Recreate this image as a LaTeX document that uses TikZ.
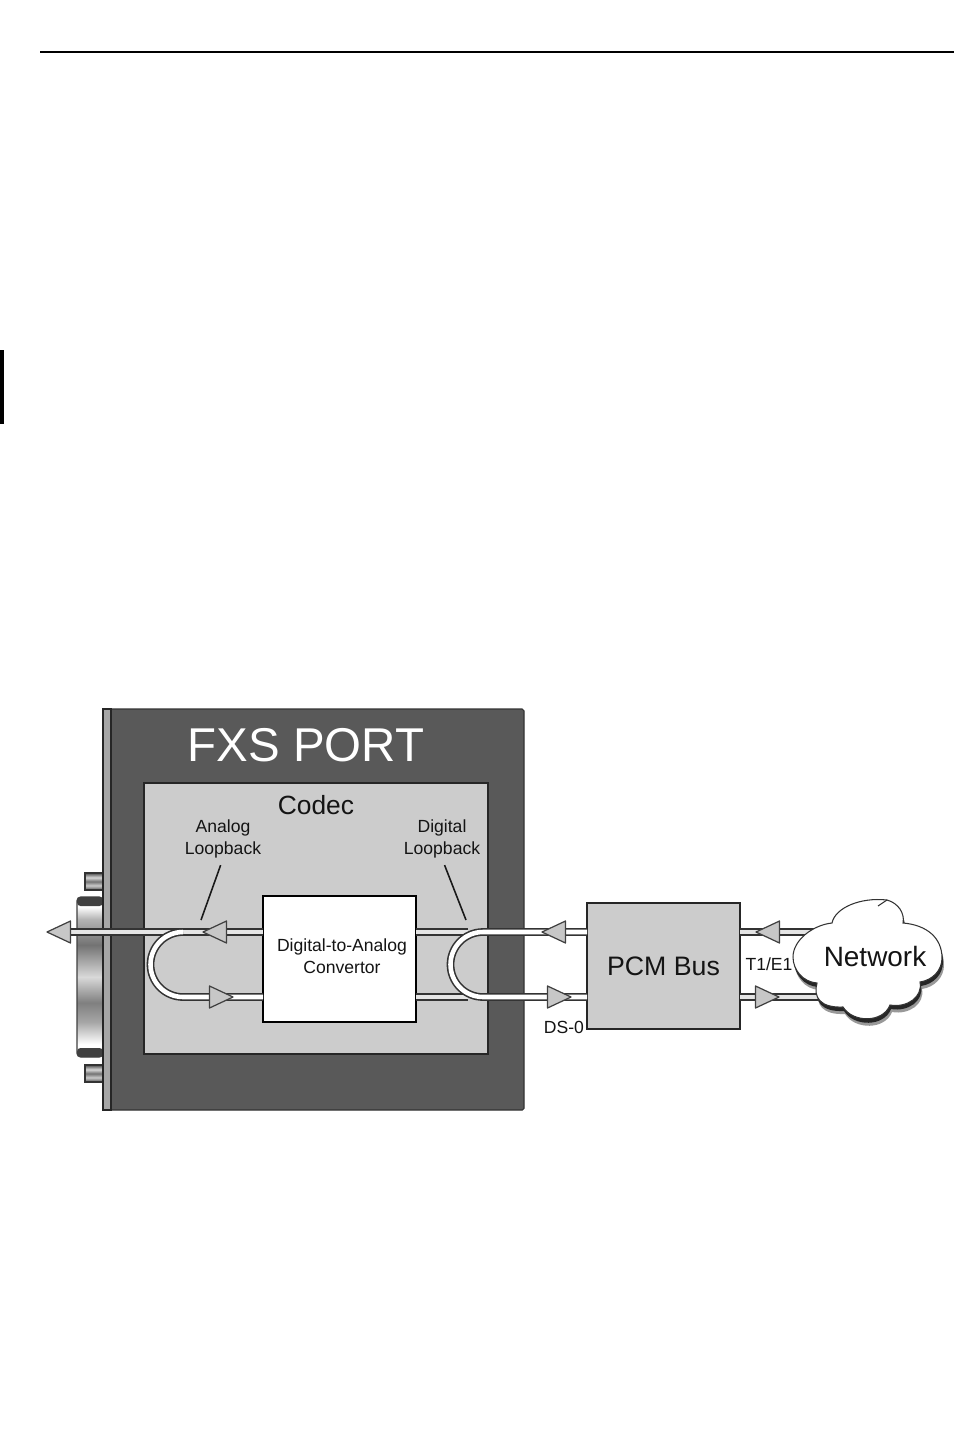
\documentclass[tikz,border=0pt]{standalone}
\usepackage{fontspec}
\setmainfont{Liberation Sans}
\usepackage{tikz}
\usetikzlibrary{positioning}
\pgfdeclareverticalshading{plugshade}{100bp}{color(0bp)=(white); color(25bp)=(white); color(29bp)=(white); color(36bp)=(black!35); color(42bp)=(black!50); color(50bp)=(black!15); color(60bp)=(black!55); color(68bp)=(black!30); color(72bp)=(white); color(75bp)=(white); color(100bp)=(white)}
\pgfdeclareverticalshading{screwshade}{100bp}{color(0bp)=(black!70); color(25bp)=(black!70); color(38bp)=(black!20); color(50bp)=(black!55); color(62bp)=(black!15); color(75bp)=(black!70); color(100bp)=(black!70)}
\tikzset{
	lbl/.style={draw=none,fill=none,inner sep=0pt,align=center,text=black!92},
	smalllbl/.style={lbl,font=\fontsize{10}{12.5}\selectfont},
	bluebox/.style={draw=black!85,fill=black!20,line width=.6pt,outer sep=0pt,inner sep=0pt},
	pipe/.style={draw=black!80,line width=.9pt,double=black!10,double distance=2.6pt},
	loopline/.style={pipe,double=white},
	pipehead/.style={draw=black!75,fill=black!22,line width=.7pt,line join=round},
	leader/.style={draw=black!90,line width=.9pt},
	cloudshape/.style={draw=black!80,fill=white,line width=.6pt}
}
\newcommand{\cloudpath}{(832,923) .. controls (835,908) and (860,897) .. (887,900) .. controls (898,903) and (905,913) .. (903,923) .. controls (927,925) and (942,938) .. (942,958) .. controls (942,970) and (933,980) .. (920,982) .. controls (923,997) and (907,1008) .. (890,1005) .. controls (883,1023) and (853,1023) .. (843,1007) .. controls (820,1008) and (813,997) .. (817,983) .. controls (803,982) and (793,970) .. (793,957) .. controls (793,940) and (813,925) .. (832,923) -- cycle}
\begin{document}
\begin{tikzpicture}[x=0.2mm,y=-0.2mm]
	\useasboundingbox (0,0) rectangle (954,1448);
	\fill[white] (0,0) rectangle (954,1448);
	
	% page furniture
	\draw[black,line width=1.1pt] (40,52)--(954,52);
	\fill[black] (0,350) rectangle (3.5,424);
	
	% serial connector on the left of the port
	\shade[shading=screwshade,draw=black!80,line width=.6pt] (85,873) rectangle (103,890);
	\shade[shading=screwshade,draw=black!80,line width=.6pt] (85,1065) rectangle (103,1082);
	\shade[shading=plugshade,draw=black!75,line width=.6pt,rounded corners=2pt] (77,897) rectangle (103,1057);
	\fill[black!75,rounded corners=2pt] (77,897) rectangle (103,906);
	\fill[black!75,rounded corners=2pt] (77,1048) rectangle (103,1057);
	
	% port, codec and boxes
	\draw[draw=black!80,fill=black!65,line width=.6pt,rounded corners=1pt] (103,709) rectangle (524,1110);
	\draw[draw=black!85,fill=black!35,line width=.6pt] (103,709) rectangle (111,1110);
	\node[bluebox,minimum width=68.8mm,minimum height=54.2mm] (codec) at (316,918.5) {};
	\node[lbl,font=\fontsize{27}{30}\selectfont,text=white] (fxs) at (306,745) {FXS PORT};
	\node[lbl,font=\fontsize{15}{18}\selectfont] (codeclbl) at (316,805) {Codec};
	\node[draw=black,fill=white,line width=1.2pt,outer sep=0pt,minimum width=30.6mm,minimum height=25.2mm] (dac) at (339.5,959) {};
	\node[smalllbl] (daclbl) at (342,956) {Digital-to-Analog\\Convertor};
	\node[bluebox,font=\fontsize{15.2}{18}\selectfont,text=black!92,minimum width=30.6mm,minimum height=25.2mm] (pcm) at (663.5,966) {PCM Bus};
	
	\coordinate (toprow) at (0,932);
	\coordinate (botrow) at (0,997);
	\coordinate (plugend) at (70,932);
	\coordinate (aloop) at (183,932);
	\coordinate (dloop) at (483,932);
	\coordinate (dstub) at (468,932);
	\coordinate (cloudmid) at (875,957);
	
	% lines between the boxes
	\draw[pipe] (pcm.east |- toprow)--(cloudmid |- toprow);
	\draw[pipe] (pcm.east |- botrow)--(cloudmid |- botrow);
	\draw[pipe] (dac.east |- toprow)--(dstub);
	\draw[pipe] (dac.east |- botrow)--(dstub |- botrow);
	\draw[loopline] (pcm.west |- toprow)--(dloop) arc[start angle=270,end angle=90,radius=32.5]--(pcm.west |- botrow);
	\draw[pipe] (dac.west |- toprow)--(plugend);
	\draw[loopline] (aloop) arc[start angle=270,end angle=90,radius=32.5]--(dac.west |- botrow);
	
	% the cloud, with its shadow first
	\begin{scope}[shift={(2,7)}]
		\fill[black!40] \cloudpath;
	\end{scope}
	\begin{scope}[shift={(1,4)}]
		\fill[black!85] \cloudpath;
	\end{scope}
	\draw[cloudshape] \cloudpath;
	\draw[black!80,line width=.6pt] (878,906)--(887,900);
	\node[lbl,font=\fontsize{15.9}{18}\selectfont] (network) at (cloudmid) {Network};
	
	% arrow heads: tip x, tip y, side of the base
	\foreach \tipx/\tipy/\dir in {47/932/1,203/932/1,233/997/-1,542/932/1,571/997/-1,756/932/1,779/997/-1}
		\draw[pipehead] (\tipx,\tipy)--++(\dir*23.5,-11)--++(0,22)--cycle;
	
	% labels and their leaders
	\node[smalllbl] (analoglbl) at (223,839) {Analog\\Loopback};
	\node[smalllbl] (digitallbl) at (442,839) {Digital\\Loopback};
	\coordinate (analogend) at (201,920);
	\coordinate (digitalend) at (466,920);
	\draw[leader,shorten <=4pt] (analoglbl.south)--(analogend);
	\draw[leader,shorten <=4pt] (digitallbl.south)--(digitalend);
	\node[smalllbl] (dszero) at (564,1027) {DS-0};
	\node[smalllbl] (tone) at (769,964) {T1/E1};
\end{tikzpicture}
\end{document}
